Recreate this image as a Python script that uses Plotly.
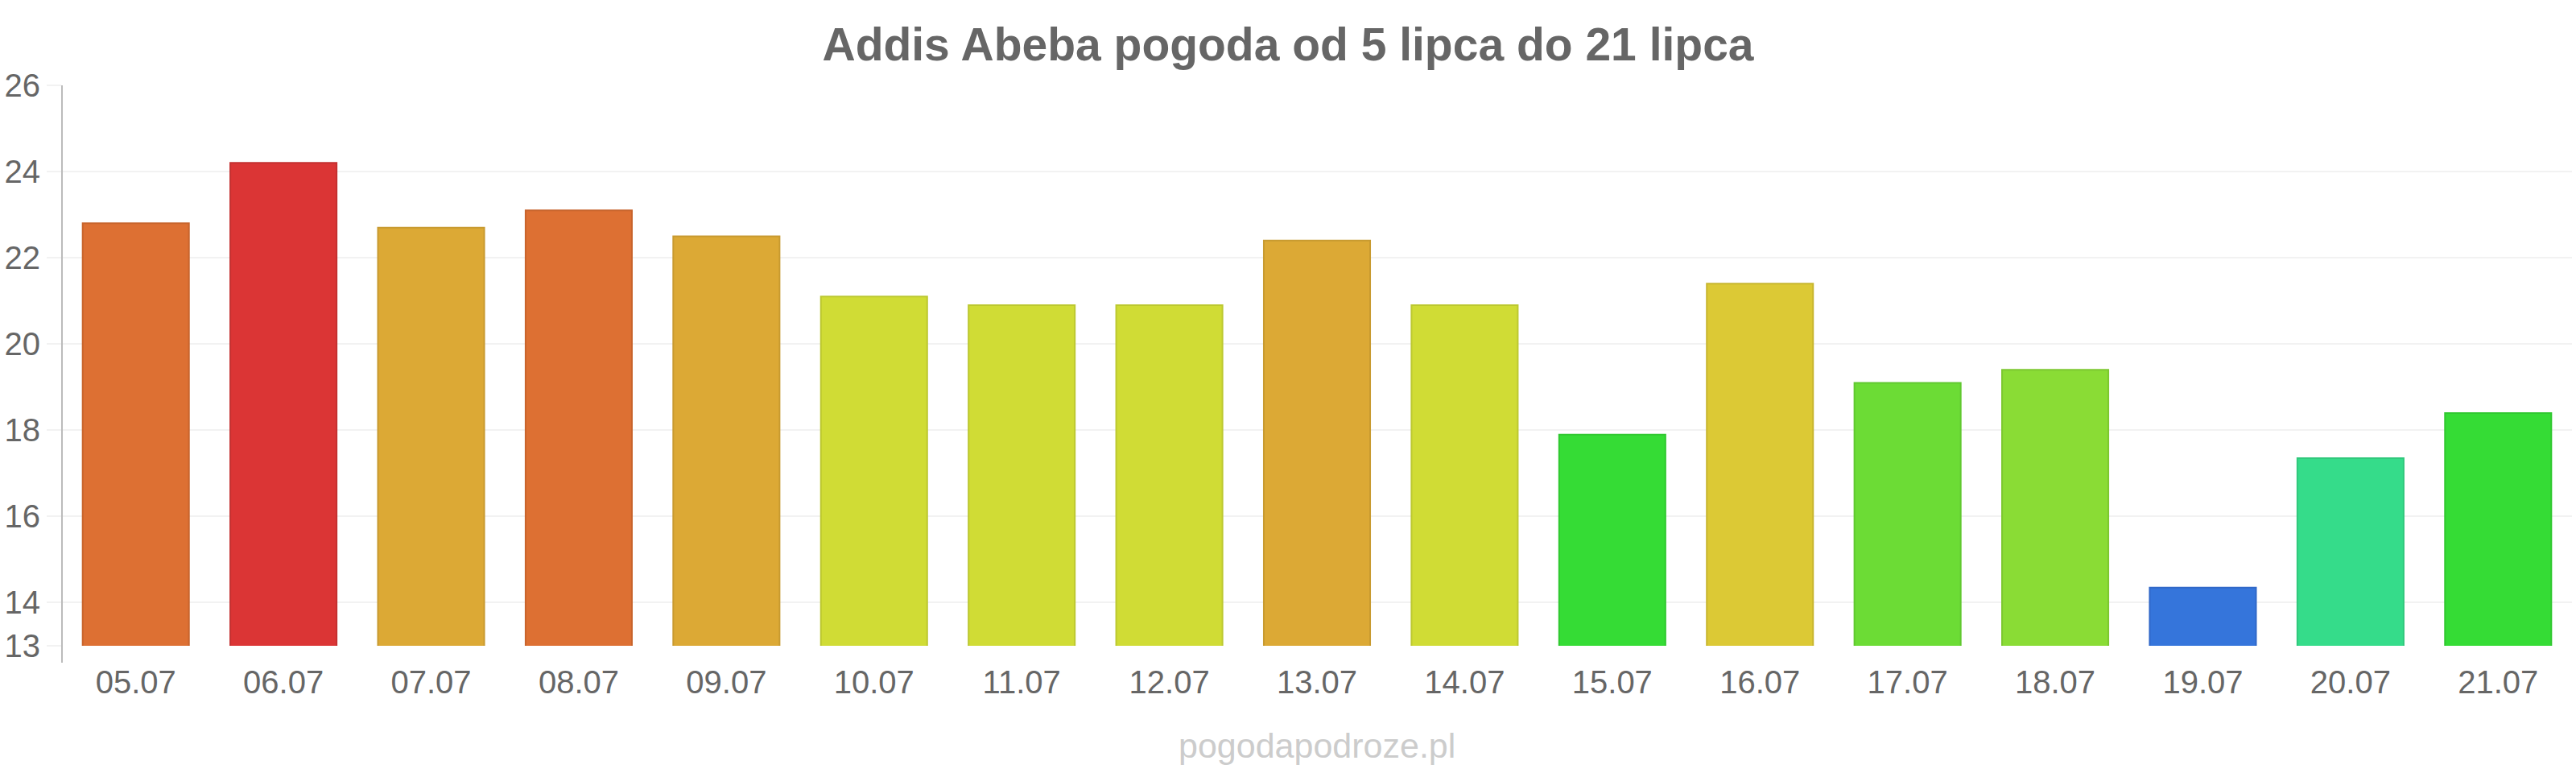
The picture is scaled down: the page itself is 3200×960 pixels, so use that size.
import plotly.graph_objects as go

dates = ["05.07", "06.07", "07.07", "08.07", "09.07", "10.07", "11.07", "12.07", "13.07",
         "14.07", "15.07", "16.07", "17.07", "18.07", "19.07", "20.07", "21.07"]
temps = [22.8, 24.2, 22.7, 23.1, 22.5, 21.1, 20.9, 20.9, 22.4,
         20.9, 17.9, 21.4, 19.1, 19.4, 14.35, 17.35, 18.4]
colors = ["#DD7033", "#DB3535", "#DCA935", "#DD7033", "#DCA935", "#D0DC35", "#D0DC35", "#D0DC35", "#DCA935",
          "#D0DC35", "#35DC35", "#DCC935", "#6CDC35", "#8ADC35", "#3575DB", "#35DC8A", "#35DC35"]
borders = ["#C8642C", "#C43030", "#C89A30", "#C8642C", "#C89A30", "#BCC830", "#BCC830", "#BCC830", "#C89A30",
           "#BCC830", "#30C830", "#C8B630", "#60C830", "#7CC830", "#3068C8", "#30C87C", "#30C830"]
ytick_vals = [13, 14, 16, 18, 20, 22, 24, 26]
title_text = "Addis Abeba pogoda od 5 lipca do 21 lipca"
watermark = "pogodapodroze.pl"

FONT = "Liberation Sans, Arial, sans-serif"

fig = go.Figure(go.Bar(
    x=dates, y=temps,
    marker=dict(color=colors, line=dict(color=borders, width=2)),
    hovertemplate="%{x}: %{y}°C<extra></extra>",
))

fig.update_layout(
    width=3200, height=960,
    margin=dict(l=75, r=5, t=106, b=158),
    paper_bgcolor="white", plot_bgcolor="white",
    bargap=0.28,
    showlegend=False,
    font=dict(family=FONT, color="#666666"),
    title=dict(text="<b>" + title_text + "</b>", x=0.5, xanchor="center",
               y=1 - 55 / 960, yanchor="middle", yref="container",
               font=dict(size=57, color="#666666", family=FONT)),
    xaxis=dict(
        showgrid=False, showline=False, zeroline=False,
        ticks="outside", ticklen=10, tickcolor="rgba(0,0,0,0)",
        tickfont=dict(size=40, color="#666666", family=FONT),
        fixedrange=True,
    ),
    yaxis=dict(
        range=[13, 26], tickvals=ytick_vals,
        showgrid=True, gridcolor="#F2F2F2", gridwidth=2,
        zeroline=False, showline=False,
        ticks="outside", ticklen=18, tickcolor="#F2F2F2", tickwidth=2,
        tickfont=dict(size=40, color="#666666", family=FONT),
        fixedrange=True,
    ),
    shapes=[dict(type="line", xref="paper", yref="paper", x0=0, x1=0, y0=-0.03, y1=1,
                 line=dict(color="#BBBBBB", width=2), layer="above")],
    annotations=[dict(text=watermark, xref="paper", yref="paper", x=0.5, y=-0.178,
                      xanchor="center", yanchor="middle", showarrow=False,
                      font=dict(size=43, color="#CCCCCC", family=FONT))],
)

fig.write_html("out.html")
